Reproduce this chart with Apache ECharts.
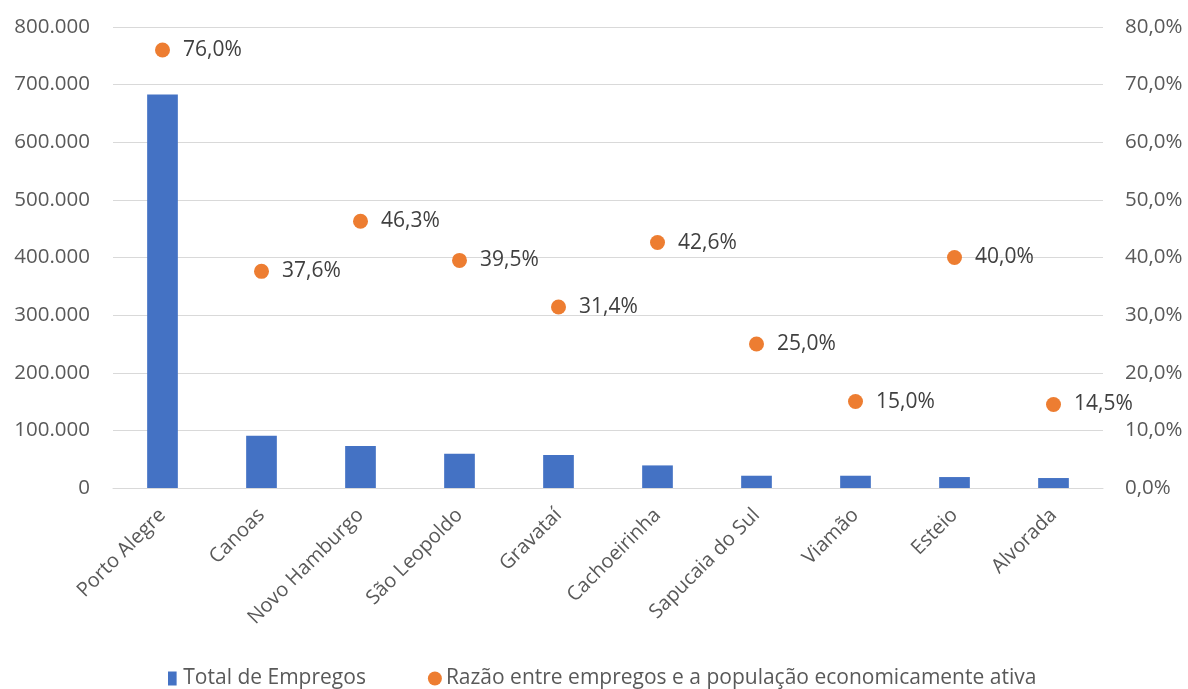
<!DOCTYPE html>
<html>
<head>
<meta charset="utf-8">
<script src="https://cdn.jsdelivr.net/npm/echarts@6/dist/echarts.min.js"></script>
<style>
  html, body { margin: 0; padding: 0; background: #fff; }
  #chart { width: 1188px; height: 689px; }
</style>
</head>
<body>
<div id="chart"></div>
<script>
var cities = ['Porto Alegre', 'Canoas', 'Novo Hamburgo', 'São Leopoldo', 'Gravataí',
  'Cachoeirinha', 'Sapucaia do Sul', 'Viamão', 'Esteio', 'Alvorada'];
var empregos = [683000, 90600, 72800, 59400, 57200, 39200, 21300, 21300, 19000, 17300];
var razao = [76.0, 37.6, 46.3, 39.5, 31.4, 42.6, 25.0, 15.0, 40.0, 14.5];

var textColor = '#595959';
var font = '"Open Sans", "Noto Sans", sans-serif';

function thousands(v) {
  return String(v).replace(/\B(?=(\d{3})+(?!\d))/g, '.');
}
function pct(v) {
  return v.toFixed(1).replace('.', ',') + '%';
}

var chart = echarts.init(document.getElementById('chart'));

var option = {
  animation: false,
  grid: { left: 113, right: 85, top: 27, bottom: 201 },
  legend: {
    bottom: -5,
    left: 163,
    itemGap: 62,
    itemWidth: 14,
    itemHeight: 14,
    textStyle: { color: textColor, fontSize: 21, fontFamily: font, padding: [0, 0, 0, -1] },
    data: [
      { name: 'Total de Empregos', icon: 'path://M0,0h8v13h-8z', itemStyle: { color: '#4472C4' } },
      { name: 'Razão entre empregos e a população economicamente ativa', icon: 'circle', itemStyle: { color: '#ED7D31' } }
    ]
  },
  xAxis: {
    type: 'category',
    data: cities,
    axisLine: { lineStyle: { color: '#D9D9D9', width: 1 } },
    axisTick: { show: false },
    axisLabel: {
      rotate: 45,
      interval: 0,
      color: textColor,
      fontSize: 20,
      fontFamily: font,
      margin: 24
    }
  },
  yAxis: [
    {
      type: 'value',
      min: 0,
      max: 800000,
      interval: 100000,
      axisLine: { show: false },
      axisTick: { show: false },
      splitLine: { lineStyle: { color: '#D9D9D9', width: 1 } },
      axisLabel: {
        color: textColor,
        fontSize: 20.5,
        fontFamily: font,
        margin: 23,
        formatter: thousands
      }
    },
    {
      type: 'value',
      min: 0,
      max: 80,
      interval: 10,
      axisLine: { show: false },
      axisTick: { show: false },
      splitLine: { show: false },
      axisLabel: {
        color: textColor,
        fontSize: 20.5,
        fontFamily: font,
        margin: 22,
        formatter: pct
      }
    }
  ],
  series: [
    {
      name: 'Total de Empregos',
      type: 'bar',
      data: empregos,
      barWidth: '31%',
      itemStyle: { color: '#4472C4' }
    },
    {
      name: 'Razão entre empregos e a população economicamente ativa',
      type: 'scatter',
      yAxisIndex: 1,
      data: razao,
      symbolSize: 15,
      itemStyle: { color: '#ED7D31', opacity: 1 },
      label: {
        show: true,
        position: 'right',
        distance: 13,
        color: '#404040',
        fontSize: 21,
        fontFamily: font,
        formatter: function (p) { return pct(p.value); }
      }
    }
  ]
};

chart.setOption(option);
window.onresize = chart.resize;
</script>
</body>
</html>
